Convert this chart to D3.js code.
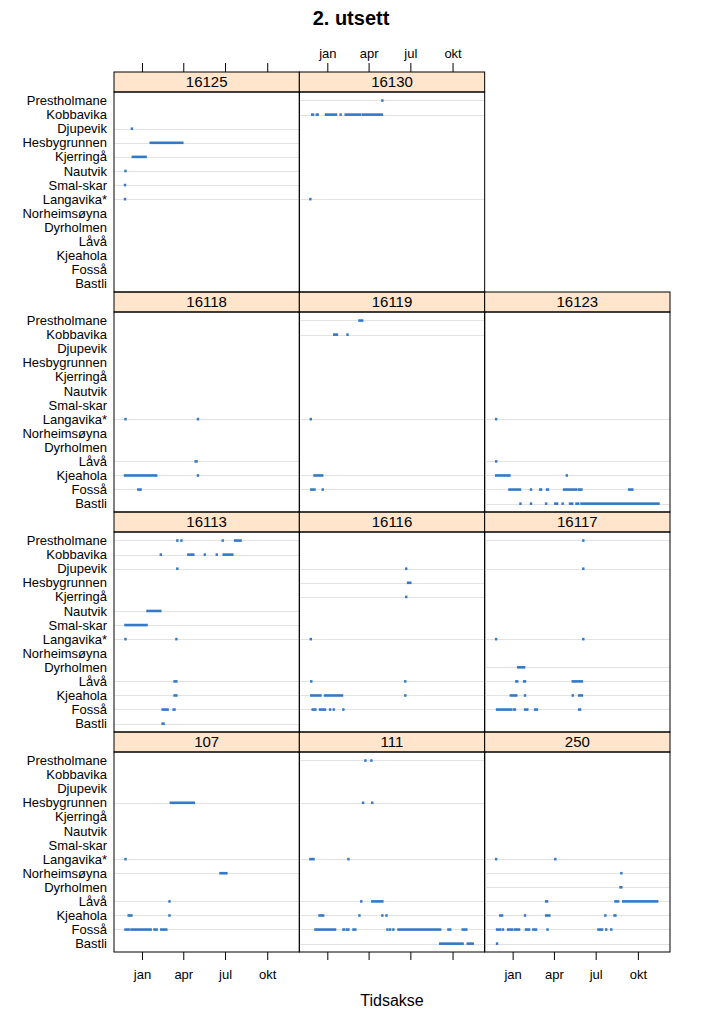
<!DOCTYPE html>
<html>
<head>
<meta charset="utf-8">
<script src="https://cdn.jsdelivr.net/npm/d3@7/dist/d3.min.js"></script>
<style>
  html, body { margin: 0; padding: 0; background: #fff; }
  svg text { font-family: "Liberation Sans", Arial, sans-serif; fill: #000; }
</style>
</head>
<body>
<svg id="chart" width="702" height="1023"></svg>
<script>
// ---------------- data ----------------
const title = "2. utsett";
const xTitle = "Tidsakse";
const categories = ["Prestholmane","Kobbavika","Djupevik","Hesbygrunnen","Kjerringå","Nautvik",
  "Smal-skar","Langavika*","Norheimsøyna","Dyrholmen","Låvå","Kjeahola","Fosså","Bastli"];
const tickDates = ["2014-01-01","2014-04-01","2014-07-01","2014-10-01"];
const tickLabels = ["jan","apr","jul","okt"];
const xDomain = ["2013-11-01","2014-12-10"];
// panel order as lattice draws them: bottom-left first, left to right, then upward
const panelNames = ["107","111","250","16113","16116","16117","16118","16119","16123","16125","16130"];

// each entry: [location, first date, last date]
const p107 = [
  ["Hesbygrunnen","2014-03-05","2014-04-24"],
  ["Langavika*","2013-11-26","2013-11-26"],
  ["Norheimsøyna","2014-06-21","2014-07-04"],
  ["Låvå","2014-03-02","2014-03-02"],
  ["Kjeahola","2013-12-03","2013-12-09"],
  ["Kjeahola","2014-03-02","2014-03-02"],
  ["Fosså","2013-11-26","2013-12-03"],
  ["Fosså","2013-12-09","2014-01-20"],
  ["Fosså","2014-01-28","2014-02-02"],
  ["Fosså","2014-02-12","2014-02-23"]
];
const p111 = [
  ["Prestholmane","2014-03-25","2014-03-25"],
  ["Prestholmane","2014-04-07","2014-04-07"],
  ["Hesbygrunnen","2014-03-20","2014-03-20"],
  ["Hesbygrunnen","2014-04-09","2014-04-09"],
  ["Langavika*","2013-11-25","2013-12-02"],
  ["Langavika*","2014-02-16","2014-02-16"],
  ["Låvå","2014-03-16","2014-03-16"],
  ["Låvå","2014-04-09","2014-05-01"],
  ["Kjeahola","2013-12-15","2013-12-23"],
  ["Kjeahola","2014-03-12","2014-03-12"],
  ["Kjeahola","2014-05-01","2014-05-01"],
  ["Kjeahola","2014-05-10","2014-05-10"],
  ["Fosså","2013-12-06","2014-01-18"],
  ["Fosså","2014-02-05","2014-02-07"],
  ["Fosså","2014-02-13","2014-02-16"],
  ["Fosså","2014-02-27","2014-03-03"],
  ["Fosså","2014-05-12","2014-05-12"],
  ["Fosså","2014-05-18","2014-05-18"],
  ["Fosså","2014-05-25","2014-05-25"],
  ["Fosså","2014-06-05","2014-09-04"],
  ["Fosså","2014-09-22","2014-09-26"],
  ["Fosså","2014-10-23","2014-10-31"],
  ["Bastli","2014-09-04","2014-10-23"],
  ["Bastli","2014-11-03","2014-11-14"]
];
const p250 = [
  ["Langavika*","2013-11-26","2013-11-26"],
  ["Langavika*","2014-04-04","2014-04-04"],
  ["Norheimsøyna","2014-08-26","2014-08-26"],
  ["Dyrholmen","2014-08-24","2014-08-26"],
  ["Låvå","2014-03-15","2014-03-17"],
  ["Låvå","2014-08-13","2014-08-19"],
  ["Låvå","2014-08-30","2014-11-12"],
  ["Kjeahola","2013-12-05","2013-12-09"],
  ["Kjeahola","2014-01-28","2014-01-28"],
  ["Kjeahola","2014-03-15","2014-03-22"],
  ["Kjeahola","2014-07-22","2014-07-22"],
  ["Kjeahola","2014-08-11","2014-08-13"],
  ["Fosså","2013-11-28","2013-12-05"],
  ["Fosså","2013-12-11","2013-12-11"],
  ["Fosså","2013-12-22","2013-12-31"],
  ["Fosså","2014-01-06","2014-01-15"],
  ["Fosså","2014-01-30","2014-02-06"],
  ["Fosså","2014-02-15","2014-02-21"],
  ["Fosså","2014-03-18","2014-03-18"],
  ["Fosså","2014-07-07","2014-07-15"],
  ["Fosså","2014-07-24","2014-07-24"],
  ["Fosså","2014-08-04","2014-08-04"],
  ["Bastli","2013-11-28","2013-11-28"]
];
const p16113 = [
  ["Prestholmane","2014-03-19","2014-03-19"],
  ["Prestholmane","2014-03-28","2014-03-28"],
  ["Prestholmane","2014-06-26","2014-06-26"],
  ["Prestholmane","2014-07-23","2014-08-04"],
  ["Kobbavika","2014-02-11","2014-02-11"],
  ["Kobbavika","2014-04-12","2014-04-23"],
  ["Kobbavika","2014-05-18","2014-05-18"],
  ["Kobbavika","2014-06-13","2014-06-13"],
  ["Kobbavika","2014-06-28","2014-07-17"],
  ["Djupevik","2014-03-19","2014-03-19"],
  ["Nautvik","2014-01-13","2014-02-10"],
  ["Smal-skar","2013-11-26","2014-01-11"],
  ["Langavika*","2013-11-26","2013-11-26"],
  ["Langavika*","2014-03-17","2014-03-17"],
  ["Låvå","2014-03-13","2014-03-17"],
  ["Kjeahola","2014-03-13","2014-03-17"],
  ["Fosså","2014-02-15","2014-02-26"],
  ["Fosså","2014-03-11","2014-03-13"],
  ["Bastli","2014-02-15","2014-02-17"]
];
const p16116 = [
  ["Djupevik","2014-06-22","2014-06-22"],
  ["Hesbygrunnen","2014-06-26","2014-07-01"],
  ["Kjerringå","2014-06-22","2014-06-22"],
  ["Langavika*","2013-11-26","2013-11-26"],
  ["Låvå","2013-11-27","2013-11-27"],
  ["Låvå","2014-06-20","2014-06-20"],
  ["Kjeahola","2013-11-27","2013-12-17"],
  ["Kjeahola","2013-12-27","2014-02-02"],
  ["Kjeahola","2014-06-20","2014-06-20"],
  ["Fosså","2013-11-30","2013-12-06"],
  ["Fosså","2013-12-16","2013-12-27"],
  ["Fosså","2014-01-07","2014-01-07"],
  ["Fosså","2014-01-15","2014-01-15"],
  ["Fosså","2014-02-05","2014-02-05"]
];
const p16117 = [
  ["Prestholmane","2014-06-04","2014-06-04"],
  ["Djupevik","2014-06-04","2014-06-04"],
  ["Langavika*","2013-11-26","2013-11-26"],
  ["Langavika*","2014-06-04","2014-06-04"],
  ["Dyrholmen","2014-01-13","2014-01-26"],
  ["Låvå","2014-01-09","2014-01-11"],
  ["Låvå","2014-01-26","2014-01-28"],
  ["Låvå","2014-05-12","2014-06-01"],
  ["Kjeahola","2013-12-28","2014-01-09"],
  ["Kjeahola","2014-01-28","2014-01-28"],
  ["Kjeahola","2014-05-12","2014-05-12"],
  ["Kjeahola","2014-05-26","2014-06-01"],
  ["Fosså","2013-11-28","2013-12-29"],
  ["Fosså","2014-01-04","2014-01-06"],
  ["Fosså","2014-01-28","2014-02-02"],
  ["Fosså","2014-02-19","2014-02-23"],
  ["Fosså","2014-05-26","2014-05-28"]
];
const p16118 = [
  ["Langavika*","2013-11-26","2013-11-26"],
  ["Langavika*","2014-05-03","2014-05-03"],
  ["Låvå","2014-04-28","2014-04-30"],
  ["Kjeahola","2013-11-25","2014-02-01"],
  ["Kjeahola","2014-05-03","2014-05-03"],
  ["Fosså","2013-12-24","2013-12-29"]
];
const p16119 = [
  ["Prestholmane","2014-03-12","2014-03-18"],
  ["Kobbavika","2014-01-16","2014-01-22"],
  ["Kobbavika","2014-02-14","2014-02-14"],
  ["Langavika*","2013-11-26","2013-11-26"],
  ["Kjeahola","2013-12-04","2013-12-21"],
  ["Fosså","2013-11-27","2013-12-04"],
  ["Fosså","2013-12-22","2013-12-22"]
];
const p16123 = [
  ["Langavika*","2013-11-26","2013-11-26"],
  ["Låvå","2013-11-26","2013-11-26"],
  ["Kjeahola","2013-11-26","2013-12-25"],
  ["Kjeahola","2014-04-29","2014-04-29"],
  ["Fosså","2013-12-25","2014-01-17"],
  ["Fosså","2014-02-10","2014-02-10"],
  ["Fosså","2014-03-02","2014-03-04"],
  ["Fosså","2014-03-17","2014-03-19"],
  ["Fosså","2014-04-23","2014-05-20"],
  ["Fosså","2014-05-26","2014-05-31"],
  ["Fosså","2014-09-12","2014-09-19"],
  ["Bastli","2014-01-18","2014-01-18"],
  ["Bastli","2014-02-10","2014-02-10"],
  ["Bastli","2014-03-15","2014-03-15"],
  ["Bastli","2014-04-04","2014-04-08"],
  ["Bastli","2014-04-20","2014-04-20"],
  ["Bastli","2014-05-06","2014-05-11"],
  ["Bastli","2014-05-20","2014-05-24"],
  ["Bastli","2014-05-31","2014-11-15"]
];
const p16125 = [
  ["Djupevik","2013-12-10","2013-12-10"],
  ["Hesbygrunnen","2014-01-20","2014-03-30"],
  ["Kjerringå","2013-12-12","2014-01-09"],
  ["Nautvik","2013-11-26","2013-11-26"],
  ["Smal-skar","2013-11-25","2013-11-25"],
  ["Langavika*","2013-11-25","2013-11-25"]
];
const p16130 = [
  ["Prestholmane","2014-05-01","2014-05-01"],
  ["Kobbavika","2013-11-29","2013-12-01"],
  ["Kobbavika","2013-12-09","2013-12-11"],
  ["Kobbavika","2013-12-29","2014-01-20"],
  ["Kobbavika","2014-01-30","2014-01-30"],
  ["Kobbavika","2014-02-10","2014-03-14"],
  ["Kobbavika","2014-03-20","2014-04-30"],
  ["Langavika*","2013-11-25","2013-11-25"]
];
const panelData = [p107, p111, p250, p16113, p16116, p16117, p16118, p16119, p16123, p16125, p16130];

// ---------------- layout & styles ----------------
const gridLeft = 114, gridRight = 670, gridTop = 72;
const nCols = 3, nRows = 4;
const colW = (gridRight - gridLeft) / nCols;
const stripH = 20, panelH = 200, rowH = stripH + panelH;
const markColor = "#3479c9";
const refColor = "#e3e3e3";
const stripColor = "#ffe5cc";

const parse = d3.timeParse("%Y-%m-%d");
const svg = d3.select("#chart");

const x = d3.scaleTime().domain(xDomain.map(parse)).range([0, colW]);
const y = d3.scalePoint().domain(categories).range([0, panelH]).padding(0.6);

svg.append("text").attr("x", 351).attr("y", 25).attr("text-anchor", "middle")
  .style("font-size", "20px").style("font-weight", "bold").text(title);
svg.append("text").attr("x", (gridLeft + gridRight) / 2).attr("y", 1006).attr("text-anchor", "middle")
  .style("font-size", "16px").text(xTitle);

panelNames.forEach((name, i) => {
  const col = i % nCols;
  const rowFromBottom = Math.floor(i / nCols);
  const row = nRows - 1 - rowFromBottom;
  const gx = gridLeft + col * colW;
  const gy = gridTop + row * rowH;
  const g = svg.append("g").attr("transform", `translate(${gx},${gy})`);
  const data = panelData[i];

  // strip
  g.append("rect").attr("x", 0).attr("y", 0).attr("width", colW).attr("height", stripH)
    .attr("fill", stripColor);
  g.append("text").attr("x", colW / 2).attr("y", stripH / 2).attr("dy", "0.36em")
    .attr("text-anchor", "middle").style("font-size", "15px").text(name);

  const pg = g.append("g").attr("transform", `translate(0,${stripH})`);
  // reference lines for locations present in this panel
  const present = categories.filter(c => data.some(d => d[0] === c));
  pg.selectAll("line.ref").data(present).join("line").attr("class", "ref")
    .attr("x1", 0).attr("x2", colW)
    .attr("y1", d => Math.round(y(d)) + 0.5).attr("y2", d => Math.round(y(d)) + 0.5)
    .attr("stroke", refColor).attr("stroke-width", 1);

  // marks
  const pad = 1.2;
  pg.selectAll("rect.mark").data(data).join("rect").attr("class", "mark")
    .attr("x", d => x(parse(d[1])) - pad)
    .attr("width", d => x(parse(d[2])) - x(parse(d[1])) + 2 * pad)
    .attr("y", d => y(d[0]) - 1.2)
    .attr("height", 2.6)
    .attr("fill", markColor);

  // y labels on left column
  if (col === 0) {
    svg.append("g").selectAll("text").data(categories).join("text")
      .attr("x", gridLeft - 7).attr("y", d => gy + stripH + y(d)).attr("dy", "0.36em")
      .attr("text-anchor", "end").style("font-size", "13px").text(d => d);
  }

  // bottom axis on bottom row
  if (rowFromBottom === 0) {
    const ax = d3.axisBottom(x).tickValues(tickDates.map(parse)).tickSize(8).tickPadding(10)
      .tickFormat((d, k) => (col === 1 ? "" : tickLabels[k]));
    const a = g.append("g").attr("transform", `translate(0,${rowH})`).call(ax);
    a.select(".domain").remove();
    a.selectAll("text").style("font-size", "13px").attr("font-family", null);
    a.selectAll("line").attr("stroke", "#000");
  }
  // top axis on top row
  if (row === 0) {
    const ax = d3.axisTop(x).tickValues(tickDates.map(parse)).tickSize(9).tickPadding(5)
      .tickFormat((d, k) => (col === 1 ? tickLabels[k] : ""));
    const a = g.append("g").call(ax);
    a.select(".domain").remove();
    a.selectAll("text").style("font-size", "13px").attr("font-family", null);
    a.selectAll("line").attr("stroke", "#000");
  }

  // borders
  g.append("rect").attr("x", 0).attr("y", 0).attr("width", colW).attr("height", stripH)
    .attr("fill", "none").attr("stroke", "#000").attr("stroke-width", 1);
  g.append("rect").attr("x", 0).attr("y", stripH).attr("width", colW).attr("height", panelH)
    .attr("fill", "none").attr("stroke", "#000").attr("stroke-width", 1);
});
</script>
</body>
</html>
